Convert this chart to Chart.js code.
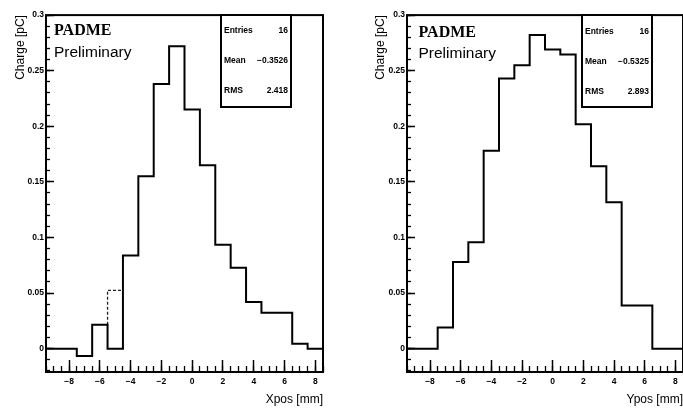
<!DOCTYPE html>
<html lang="en">
<head>
<meta charset="UTF-8">
<title>PADME charge profiles</title>
<script src="https://cdn.jsdelivr.net/npm/chart.js"></script>
<style>
  body { margin: 0; background: #fff; }
  #wrap { position: relative; width: 683px; height: 412px; overflow: hidden; }
  canvas { position: absolute; top: 0; }
</style>
</head>
<body>
<div id="wrap">
  <canvas id="xposChart" width="340" height="412" style="left:0"></canvas>
  <canvas id="yposChart" width="343" height="412" style="left:340px"></canvas>
</div>
<script>
// 1 mm bins, centres from -9 to 8
var binCenters = [-9, -8, -7, -6, -5, -4, -3, -2, -1, 0, 1, 2, 3, 4, 5, 6, 7, 8];
var xposCharge = [0, 0, -0.0065, 0.0214, 0, 0.0837, 0.155, 0.238, 0.272, 0.215, 0.165, 0.0934, 0.0728, 0.042, 0.0323, 0.0323, 0.0044, 0];
var yposCharge = [0, 0, 0.019, 0.078, 0.0957, 0.178, 0.243, 0.255, 0.282, 0.269, 0.2646, 0.2018, 0.164, 0.1316, 0.0388, 0.0388, 0, 0];
// dotted alternative value for one Xpos bin
var xposAltBin = [-5];
var xposAltCharge = [0.0525];

var xTicks = [-8, -6, -4, -2, 0, 2, 4, 6, 8];
var yTicks = [0, 0.05, 0.1, 0.15, 0.2, 0.25, 0.3];

var statNames = ['Entries', 'Mean', 'RMS'];
var xposStats = ['16', '\u22120.3526', '2.418'];
var yposStats = ['16', '\u22120.5325', '2.893'];

var FONT = '"Liberation Sans", Arial, sans-serif';

function steps(a, b, s) {
  var out = [];
  for (var v = a; v <= b + s / 2; v += s) out.push(Math.round(v * 1000) / 1000);
  return out;
}
var xMinor = steps(-9.5, 8.5, 0.5);
var yMinor = steps(-0.02, 0.3, 0.01);

function histPoints(values) {
  var pts = binCenters.map(function (c, i) { return { x: c - 0.5, y: values[i] }; });
  var n = binCenters.length - 1;
  pts.push({ x: binCenters[n] + 0.5, y: values[n] });
  return pts;
}

function altPoints(values, bins, alt) {
  var pts = [];
  bins.forEach(function (b, k) {
    var i = binCenters.indexOf(b);
    pts.push({ x: b - 0.5, y: values[i - 1] }, { x: b - 0.5, y: alt[k] }, { x: b + 0.5, y: alt[k] });
  });
  return pts;
}

// frame, stat box and PADME label (ROOT style)
var decor = {
  id: 'decor',
  afterDraw: function (chart, args, o) {
    var ctx = chart.ctx, a = chart.chartArea;
    ctx.save();
    ctx.strokeStyle = '#000';
    ctx.lineWidth = 2;
    ctx.strokeRect(a.left, a.top, a.right - a.left, a.bottom - a.top);

    var bx = a.left + 175, by = 15, bw = 70, bh = 92;
    ctx.fillStyle = '#fff';
    ctx.fillRect(bx, by, bw, bh);
    ctx.strokeRect(bx, by, bw, bh);
    ctx.fillStyle = '#000';
    ctx.font = 'bold 8.5px ' + FONT;
    ctx.textBaseline = 'middle';
    statNames.forEach(function (name, i) {
      var ty = by + 16 + i * 30 + o.rowShift;
      ctx.textAlign = 'left';
      ctx.fillText(name, bx + 3, ty);
      ctx.textAlign = 'right';
      ctx.fillText(o.stats[i], bx + bw - 3, ty);
    });

    ctx.textAlign = 'left';
    ctx.textBaseline = 'alphabetic';
    ctx.font = 'bold 16px "Liberation Serif", "Times New Roman", serif';
    ctx.fillText('PADME', a.left + o.textX, o.padmeY);
    ctx.font = '15.5px ' + FONT;
    ctx.fillText('Preliminary', a.left + o.textX, o.prelimY);
    ctx.restore();
  }
};

function makeChart(id, values, alt, p) {
  var datasets = [{
    data: histPoints(values),
    stepped: 'before',
    borderColor: '#000',
    borderWidth: 2,
    pointRadius: 0,
    fill: false,
    xAxisID: 'x',
    yAxisID: 'y'
  }];
  if (alt) {
    datasets.push({
      data: alt,
      stepped: 'before',
      borderColor: '#222',
      borderWidth: 1.3,
      borderDash: [3, 2],
      pointRadius: 0,
      fill: false,
      xAxisID: 'x',
      yAxisID: 'y'
    });
  }
  return new Chart(document.getElementById(id), {
    type: 'line',
    data: { datasets: datasets },
    options: {
      responsive: false,
      animation: false,
      devicePixelRatio: 1,
      events: [],
      layout: { padding: { top: 7, right: p.padRight, left: 0, bottom: 0 } },
      plugins: {
        legend: { display: false },
        tooltip: { enabled: false },
        decor: { stats: p.stats, textX: p.textX, padmeY: p.padmeY, prelimY: p.prelimY, rowShift: p.rowShift }
      },
      scales: {
        x: {
          type: 'linear', position: 'bottom', weight: 1,
          min: -9.5, max: 8.5,
          afterFit: function (s) { s.height = 40; s.paddingLeft = 0; s.paddingRight = 0; },
          afterBuildTicks: function (s) { s.ticks = xTicks.map(function (v) { return { value: v }; }); },
          ticks: {
            autoSkip: false, maxRotation: 0, padding: 16.6, color: '#000',
            font: { family: FONT, size: 8.5, weight: 'bold', lineHeight: 1.2 },
            callback: function (v) { return v < 0 ? '\u2212' + Math.abs(v) : String(v); }
          },
          grid: { drawOnChartArea: false, tickLength: -12, tickColor: '#000', tickWidth: 1.5 },
          border: { display: false },
          title: {
            display: true, text: p.xTitle, align: 'end', color: '#000',
            font: { family: FONT, size: 12, lineHeight: 1.2 },
            padding: { top: 0, bottom: 5 }
          }
        },
        xMinor: {
          type: 'linear', axis: 'x', position: 'bottom', weight: 0,
          min: -9.5, max: 8.5,
          afterFit: function (s) { s.height = 0; s.paddingLeft = 0; s.paddingRight = 0; },
          afterBuildTicks: function (s) { s.ticks = xMinor.map(function (v) { return { value: v }; }); },
          ticks: { display: false },
          grid: { drawOnChartArea: false, tickLength: -6, tickColor: '#000', tickWidth: 1.3 },
          border: { display: false }
        },
        y: {
          type: 'linear', position: 'left', weight: 1,
          min: -0.021, max: 0.3,
          afterFit: function (s) { s.width = p.axisWidth; },
          afterBuildTicks: function (s) { s.ticks = yTicks.map(function (v) { return { value: v }; }); },
          ticks: {
            autoSkip: false, padding: 10, color: '#000',
            font: { family: FONT, size: 8.5, weight: 'bold', lineHeight: 1.2 },
            callback: function (v) { return String(v); }
          },
          grid: { drawOnChartArea: false, tickLength: -8, tickColor: '#000', tickWidth: 1.5 },
          border: { display: false },
          title: {
            display: true, text: 'Charge [pC]', align: 'end', color: '#000',
            font: { family: FONT, size: 12, lineHeight: 1.2 },
            padding: { top: p.titlePad, bottom: 0 }
          }
        },
        yMinor: {
          type: 'linear', axis: 'y', position: 'left', weight: 0,
          min: -0.021, max: 0.3,
          afterFit: function (s) { s.width = 0; },
          afterBuildTicks: function (s) { s.ticks = yMinor.map(function (v) { return { value: v }; }); },
          ticks: { display: false },
          grid: { drawOnChartArea: false, tickLength: -4, tickColor: '#000', tickWidth: 1.3 },
          border: { display: false }
        }
      }
    },
    plugins: [decor]
  });
}

makeChart('xposChart', xposCharge, altPoints(xposCharge, xposAltBin, xposAltCharge), {
  padRight: 17, axisWidth: 46, titlePad: 13, xTitle: 'Xpos [mm]',
  stats: xposStats, textX: 8, padmeY: 35, prelimY: 57, rowShift: 0
});
makeChart('yposChart', yposCharge, null, {
  padRight: 0, axisWidth: 67, titlePad: 33, xTitle: 'Ypos [mm]',
  stats: yposStats, textX: 11.5, padmeY: 37, prelimY: 58, rowShift: 1
});
</script>
</body>
</html>
